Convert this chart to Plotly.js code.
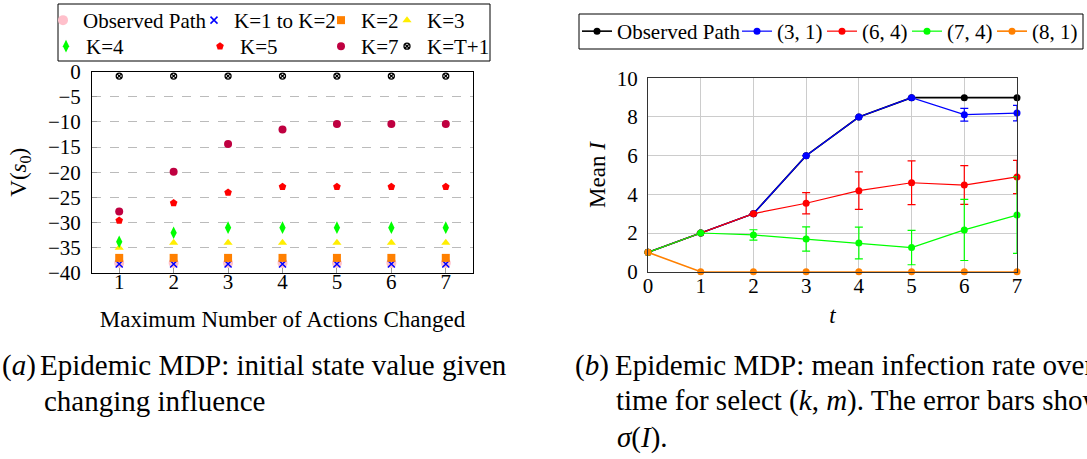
<!DOCTYPE html>
<html>
<head>
<meta charset="utf-8">
<script src="https://cdn.plot.ly/plotly-3.0.1.min.js"></script>
<style>html,body{margin:0;padding:0;background:#fff;}#chart{width:1087px;height:459px;}</style>
</head>
<body>
<div id="chart"></div>
<script>
// ---- Left panel data: V(s0) vs maximum number of actions changed ----
const actionsChanged = [1, 2, 3, 4, 5, 6, 7];
const vObserved = [-38, -38, -38, -38, -38, -38, -38];
const vK1toK2 = [-38.2, -38.2, -38.2, -38.2, -38.2, -38.2, -38.2];
const vK2 = [-37, -37, -37, -37, -37, -37, -37];
const vK3 = [-35, -34, -34, -34, -34, -34, -34];
const vK4 = [-33.8, -32, -31, -31, -31, -31, -31];
const vK5 = [-29.6, -26.1, -24, -22.9, -22.9, -22.9, -22.9];
const vK7 = [-27.8, -19.9, -14.4, -11.5, -10.4, -10.4, -10.4];
const vKT1 = [-0.9, -0.9, -0.9, -0.9, -0.9, -0.9, -0.9];
const leftNames = ['Observed Path', 'K=1 to K=2', 'K=2', 'K=3', 'K=4', 'K=5', 'K=7', 'K=T+1'];

// ---- Right panel data: mean I over time ----
const tSteps = [0, 1, 2, 3, 4, 5, 6, 7];
const iObserved = [1, 2, 3, 6, 8, 9, 9, 9];
const i31 = [1, 2, 3, 6, 8, 9, 8.12, 8.2];
const e31 = [null, null, null, null, null, null, 0.33, 0.4];
const i64 = [1, 2, 3, 3.54, 4.19, 4.6, 4.48, 4.9];
const e64 = [null, null, null, 0.55, 0.97, 1.13, 1.0, 0.86];
const i74 = [1, 2, 1.9, 1.69, 1.48, 1.25, 2.16, 2.93];
const e74 = [null, null, 0.27, 0.63, 0.82, 0.89, 1.58, 1.98];
const i81 = [1, 0, 0, 0, 0, 0, 0, 0];
const rightNames = ['Observed Path', '(3, 1)', '(6, 4)', '(7, 4)', '(8, 1)'];

const W = 1087, H = 459;
const FONT = 'Liberation Serif, serif';
const px = v => v / W;
const py = v => 1 - v / H;

function scat(y, name, legend, marker) {
  return {x: actionsChanged, y: y, name: name, legend: legend, type: 'scatter', mode: 'markers',
          xaxis: 'x', yaxis: 'y', marker: marker, cliponaxis: false, hoverinfo: 'skip'};
}
const traces = [
  scat(vObserved, leftNames[0], 'legend', {symbol: 'circle', size: 10, color: '#FFC0CB'}),
  scat(vK1toK2, leftNames[1], 'legend2', {symbol: 'x-thin-open', size: 7, color: '#0000FF', line: {color: '#0000FF', width: 1.5}}),
  scat(vK2, leftNames[2], 'legend3', {symbol: 'square', size: 8, color: '#FF8000'}),
  scat(vK3, leftNames[3], 'legend4', {symbol: 'triangle-up', size: 8, color: '#FFEE00'}),
  scat(vK4, leftNames[4], 'legend5', {symbol: 'diamond-tall', size: 9, color: '#00FF00'}),
  scat(vK5, leftNames[5], 'legend6', {symbol: 'pentagon', size: 8, color: '#FF0000'}),
  scat(vK7, leftNames[6], 'legend7', {symbol: 'circle', size: 8, color: '#BF0040'}),
  scat(vKT1, leftNames[7], 'legend8', {symbol: 'circle-x-open', size: 6, color: '#000000', line: {color: '#000', width: 1.3}})
];

function line(y, err, name, legend, color, lw) {
  const t = {x: tSteps, y: y, name: name, legend: legend, type: 'scatter', mode: 'lines+markers',
             xaxis: 'x2', yaxis: 'y2', line: {color: color, width: lw},
             marker: {symbol: 'circle', size: 7, color: color}, cliponaxis: false, hoverinfo: 'skip'};
  if (err) t.error_y = {type: 'data', array: err, visible: true, color: color, thickness: 1.2, width: 4};
  return t;
}
traces.push(line(iObserved, null, rightNames[0], 'legend9', '#000000', 1.6));
traces.push(line(i31, e31, rightNames[1], 'legend10', '#0000FF', 1.2));
traces.push(line(i64, e64, rightNames[2], 'legend11', '#FF0000', 1.2));
traces.push(line(i74, e74, rightNames[3], 'legend12', '#00FF00', 1.2));
traces.push(line(i81, null, rightNames[4], 'legend13', '#FF8000', 1.6));

function leg(boxLeft, yc, size) {
  return {x: px(boxLeft), y: py(yc), xref: 'paper', yref: 'paper', xanchor: 'left', yanchor: 'middle',
          bgcolor: 'rgba(0,0,0,0)', borderwidth: 0, font: {family: FONT, size: size, color: '#000'},
          itemclick: false, itemdoubleclick: false};
}

const axisFont = {family: FONT, size: 21, color: '#000'};
const titleFont = {family: FONT, size: 23, color: '#000'};

const layout = {
  width: W, height: H,
  margin: {l: 0, r: 0, t: 0, b: 0},
  paper_bgcolor: '#fff', plot_bgcolor: '#fff',
  font: {family: FONT, size: 21, color: '#000'},
  showlegend: true,
  xaxis: {domain: [px(92), px(473)], range: [0.5, 7.5], tickvals: actionsChanged, showgrid: false,
          zeroline: false, showline: true, linecolor: '#000', linewidth: 1, mirror: true,
          ticks: 'inside', ticklen: 5, tickcolor: '#999', tickfont: axisFont, ticklabelstandoff: -10,
          title: {text: 'Maximum Number of Actions Changed', font: titleFont, standoff: 17}},
  yaxis: {domain: [py(273), py(71.5)], range: [-40, 0], dtick: 5, showgrid: true, gridcolor: '#BBBBBB',
          griddash: 'dash', gridwidth: 1, zeroline: false, showline: true, linecolor: '#000', linewidth: 1,
          mirror: true, ticks: 'inside', ticklen: 5, tickcolor: '#999', tickfont: axisFont, ticklabelstandoff: 6,
          title: {text: 'V(<i>s</i><sub>0</sub>)', font: titleFont, standoff: 14}},
  xaxis2: {anchor: 'y2', domain: [px(648), px(1017)], range: [0, 7], dtick: 1, showgrid: true,
           gridcolor: '#CCCCCC', zeroline: false, showline: true, linecolor: '#333', linewidth: 1, mirror: true,
           ticks: '', tickfont: axisFont, ticklabelstandoff: -5,
           title: {text: '<i>t</i>', font: titleFont, standoff: 9}},
  yaxis2: {anchor: 'x2', domain: [py(271.7), py(78.3)], range: [0, 10], dtick: 2, showgrid: true,
           gridcolor: '#CCCCCC', zeroline: false, showline: true, linecolor: '#333', linewidth: 1, mirror: true,
           ticks: '', tickfont: axisFont, ticklabelstandoff: 5,
           title: {text: 'Mean <i>I</i>', font: titleFont, standoff: 4}},
  legend: leg(43, 20.5, 21),
  legend2: leg(194, 20.5, 21),
  legend3: leg(321, 20.5, 21),
  legend4: leg(387, 20.5, 21),
  legend5: leg(46, 46.5, 21),
  legend6: leg(200, 46.5, 21),
  legend7: leg(321, 46.5, 21),
  legend8: leg(387, 46.5, 21),
  legend9: leg(577, 31.5, 21),
  legend10: leg(737, 31.5, 21),
  legend11: leg(822, 31.5, 21),
  legend12: leg(907, 31.5, 21),
  legend13: leg(992, 31.5, 21),
  shapes: [
    {type: 'rect', xref: 'paper', yref: 'paper', x0: px(58), x1: px(490), y0: py(61), y1: py(4), line: {color: '#000', width: 1}},
    {type: 'rect', xref: 'paper', yref: 'paper', x0: px(579), x1: px(1083), y0: py(49), y1: py(14), line: {color: '#000', width: 1}}
  ],
  annotations: [
    {text: '(<i>a</i>)', x: px(0), y: py(365)},
    {text: 'Epidemic MDP: initial state value given', x: px(38), y: py(365)},
    {text: 'changing influence', x: px(42), y: py(401)},
    {text: '(<i>b</i>)', x: px(573), y: py(365)},
    {text: 'Epidemic MDP: mean infection rate over', x: px(613), y: py(365)},
    {text: 'time for select (<i>k</i>, <i>m</i>). The error bars show', x: px(614), y: py(400)},
    {text: '<i>σ</i>(<i>I</i>).', x: px(615), y: py(437)}
  ].map(a => Object.assign({xref: 'paper', yref: 'paper', xanchor: 'left', yanchor: 'middle', showarrow: false,
                            font: {family: FONT, size: 29, color: '#000'}}, a))
};

Plotly.newPlot('chart', traces, layout, {staticPlot: true, displayModeBar: false});
</script>
</body>
</html>
